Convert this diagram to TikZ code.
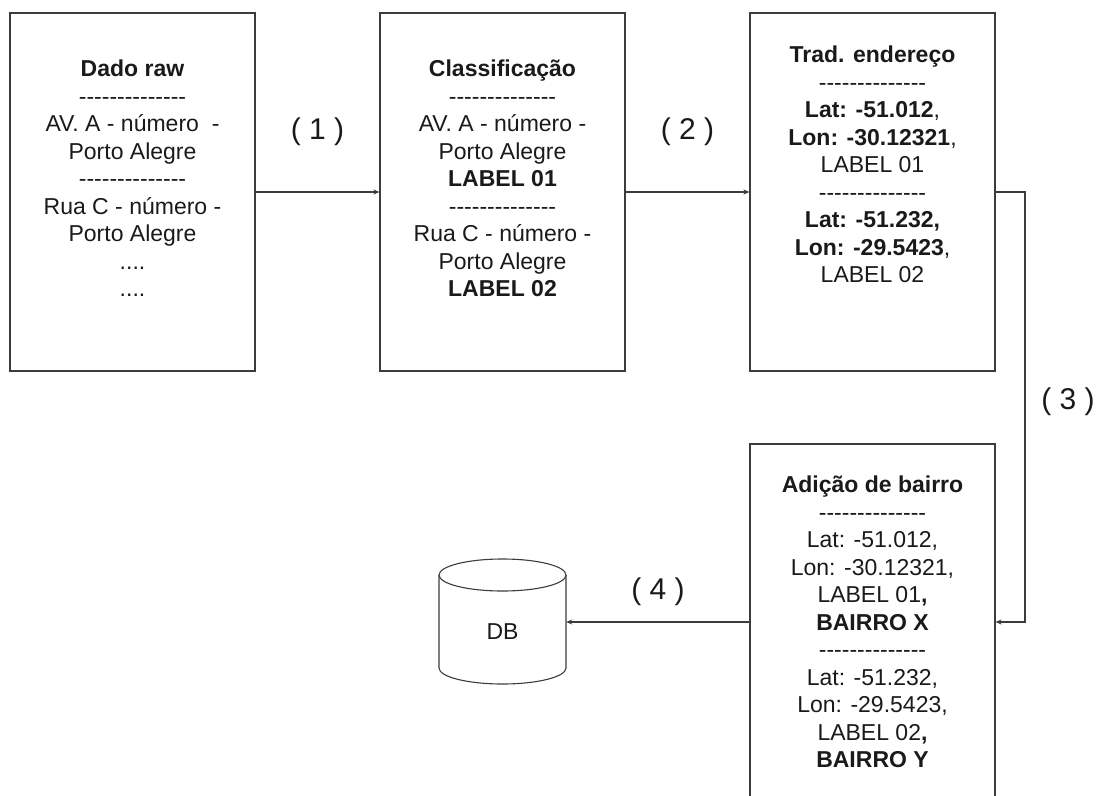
\documentclass[tikz,border=0pt]{standalone}
\usepackage{fontspec}
\setmainfont{Liberation Sans}[Ligatures=TeXOff]
\usetikzlibrary{arrows.meta}
\definecolor{ink}{HTML}{1A1A1A}
\definecolor{edgec}{HTML}{3C3C3C}
\newcommand\dashrow{--------------}
\begin{document}
\begin{tikzpicture}[x=1pt,y=-1pt,
  every node/.style={font=\fontsize{23}{27.5}\selectfont, text=ink},
  box/.style={draw=edgec, line width=1.1pt, fill=white, minimum width=245, minimum height=358, inner sep=0},
  txt/.style={align=center, inner sep=0, anchor=north},
  lab/.style={font=\fontsize{30}{34}\selectfont},
  arr/.style={draw=edgec, line width=1.1pt, -{Stealth[length=6pt,width=5pt]}},
  shp/.style={draw=edgec, line width=1.1pt}]
\useasboundingbox (0,0) rectangle (1099,795);
\fill[white] (0,0) rectangle (1099,795);
\node[box] (b1) at (132.5,192) {};
\node[box] (b2) at (502.5,192) {};
\node[box] (b3) at (872.5,192) {};
\node[box, minimum height=356] (b4) at (872.5,622) {};
\node[txt] (t1) at (132.5,60) {\textbf{Dado raw}\\\dashrow\\AV. A - número \ -\\Porto Alegre\\\dashrow\\Rua C - número -\\Porto Alegre\\....\\....};
\node[txt] (t2) at (502.5,60) {\textbf{Classificação}\\\dashrow\\AV. A - número -\\Porto Alegre\\\textbf{LABEL 01}\\\dashrow\\Rua C - número -\\Porto Alegre\\\textbf{LABEL 02}};
\node[txt] (t3) at (872.5,46) {\textbf{Trad. endereço}\\\dashrow\\\textbf{Lat: -51.012},\\\textbf{Lon: -30.12321},\\LABEL 01\\\dashrow\\\textbf{Lat: -51.232,}\\\textbf{Lon: -29.5423},\\LABEL 02};
\node[txt] (t4) at (872.5,476) {\textbf{Adição de bairro}\\\dashrow\\Lat: -51.012,\\Lon: -30.12321,\\LABEL 01\textbf{,}\\\textbf{BAIRRO X}\\\dashrow\\Lat: -51.232,\\Lon: -29.5423,\\LABEL 02\textbf{,}\\\textbf{BAIRRO Y}};
% DB cylinder
\node[minimum width=127, minimum height=125, inner sep=0] (db) at (502.5,621.5) {};
\draw[shp, fill=white] (439,575) -- (439,668) arc[start angle=180, end angle=0, x radius=63.5, y radius=16] -- (566,575);
\draw[shp, fill=white] (502.5,575) ellipse [x radius=63.5, y radius=16];
\node (dbl) at (502.5,632) {DB};
% connectors
\coordinate (k3) at (1025,192);
\draw[arr] (b1) -- (b2);
\draw[arr] (b2) -- (b3);
\draw[arr] (b3.east) -- (k3) |- (b4.east);
\draw[arr] (b4.west) -- (db.east |- b4.west);
% labels
\node[lab] (l1) at (317.5,132) {( 1 )};
\node[lab] (l2) at (687.5,132) {( 2 )};
\node[lab] (l3) at (1068,402) {( 3 )};
\node[lab] (l4) at (658,592) {( 4 )};
\end{tikzpicture}
\end{document}
